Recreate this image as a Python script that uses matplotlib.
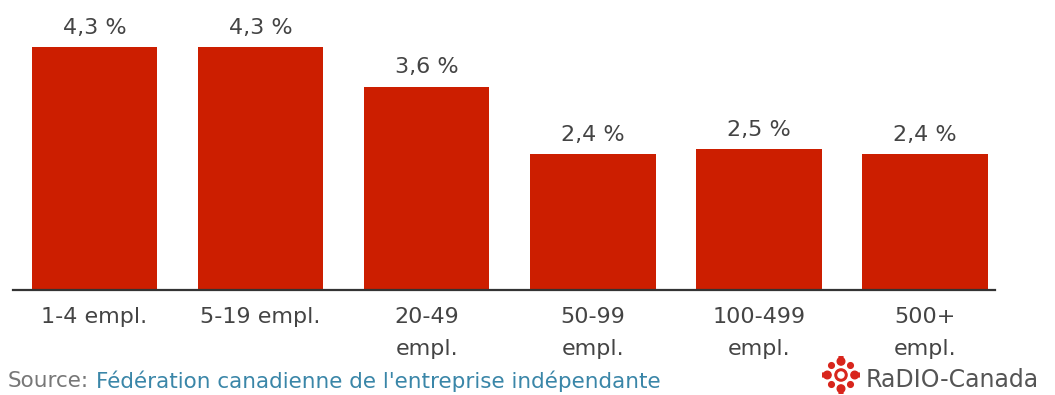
import matplotlib
matplotlib.use("Agg")
import matplotlib.pyplot as plt
from matplotlib.patches import Circle

categories = ["1-4 empl.", "5-19 empl.", "20-49\nempl.", "50-99\nempl.", "100-499\nempl.", "500+\nempl."]
values = [4.3, 4.3, 3.6, 2.4, 2.5, 2.4]
value_labels = ["4,3 %", "4,3 %", "3,6 %", "2,4 %", "2,5 %", "2,4 %"]

W, H = 1055, 395
fig = plt.figure(figsize=(W / 100, H / 100), dpi=100)
plt.rcParams['font.family'] = ['DejaVu Sans']

ax_left, ax_right = 13, 995
ax_top, ax_bottom = 10, 290
ax = fig.add_axes([ax_left / W, 1 - ax_bottom / H, (ax_right - ax_left) / W, (ax_bottom - ax_top) / H])

x = list(range(len(categories)))
bars = ax.bar(x, values, width=0.755, color='#cc1e00', zorder=2)
ax.set_xlim(-0.49, 5.42)
ax.set_ylim(0, 280 / 56.5)

for b, lab in zip(bars, value_labels):
    ax.annotate(lab, (b.get_x() + b.get_width() / 2, b.get_height()),
                xytext=(0, 9.5), textcoords='offset points', ha='center', va='baseline',
                fontsize=16, color='#444444')

ax.set_xticks(x)
ax.set_xticklabels(categories, fontsize=16, color='#444444', linespacing=1.75)
ax.tick_params(axis='x', length=0, pad=12)
ax.set_yticks([])
for s in ['top', 'right', 'left']:
    ax.spines[s].set_visible(False)
ax.spines['bottom'].set_color('#333333')
ax.spines['bottom'].set_linewidth(1.6)

# Source line
t1 = fig.text(8 / W, 1 - 381 / H, "Source:", fontsize=15.5, color='#777777', va='center', ha='left')
fig.texts.append(matplotlib.text.Annotation(
    "Fédération canadienne de l'entreprise indépendante", xy=(1, 0.5), xycoords=t1,
    xytext=(5, 0), textcoords='offset points', fontsize=15.5, color='#3a86a8',
    va='center', ha='left'))
fig.texts[-1].set_figure(fig)

# Radio-Canada logo (decorative)
lax = fig.add_axes([822 / W, 1 - 394 / H, 38 / W, 38 / H])
lax.set_xlim(-1, 1)
lax.set_ylim(-1, 1)
lax.set_aspect('equal')
lax.axis('off')
red = '#d8251c'
lax.add_patch(Circle((0, 0), 0.32, color=red))
lax.add_patch(Circle((0, 0), 0.16, color='white'))
for (cx, cy, r) in [(0, 0.72, 0.2), (0, -0.72, 0.2), (0.72, 0, 0.2), (-0.72, 0, 0.2),
                    (0.5, 0.5, 0.15), (-0.5, 0.5, 0.15), (0.5, -0.5, 0.15), (-0.5, -0.5, 0.15),
                    (0.95, 0.0, 0.1), (-0.95, 0.0, 0.1), (0, 0.95, 0.1), (0, -0.95, 0.1)]:
    lax.add_patch(Circle((cx, cy), r, color=red))
fig.text(866 / W, 1 - 380 / H, "RaDIO-Canada", fontsize=17, color='#555555', va='center', ha='left')

fig.savefig("out.png", dpi=100, facecolor='white')
